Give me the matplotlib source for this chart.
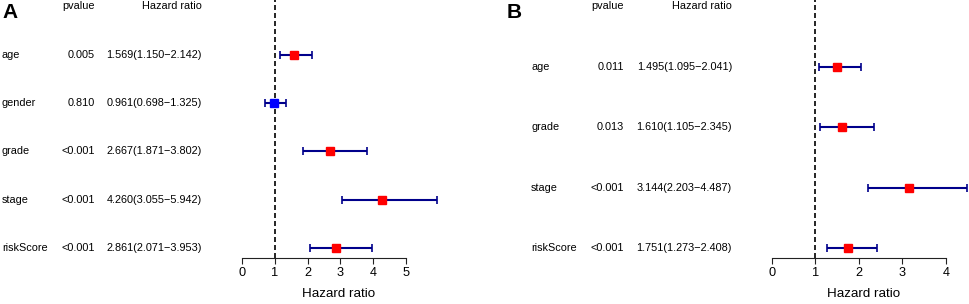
import matplotlib
matplotlib.use("Agg")
import matplotlib.pyplot as plt
import matplotlib.transforms as mtransforms

plt.rcParams["font.family"] = ["Liberation Sans", "DejaVu Sans"]

# ---------- data: panel A (univariate) ----------
a_vars = ["age", "gender", "grade", "stage", "riskScore"]
a_pval = ["0.005", "0.810", "<0.001", "<0.001", "<0.001"]
a_hr = [1.569, 0.961, 2.667, 4.260, 2.861]
a_low = [1.150, 0.698, 1.871, 3.055, 2.071]
a_high = [2.142, 1.325, 3.802, 5.942, 3.953]

# ---------- data: panel B (multivariate) ----------
b_vars = ["age", "grade", "stage", "riskScore"]
b_pval = ["0.011", "0.013", "<0.001", "<0.001"]
b_hr = [1.495, 1.610, 3.144, 1.751]
b_low = [1.095, 1.105, 2.203, 1.273]
b_high = [2.041, 2.345, 4.487, 2.408]

a_ticks = [0, 1, 2, 3, 4, 5]
b_ticks = [0, 1, 2, 3, 4]

W, H = 969, 304
fig = plt.figure(figsize=(W / 100, H / 100), dpi=100)


def px(x):
    return x / W


def forest(letter, ax, vars_, pvals, hr, low, high, ticks, xlim, ylim,
           x_letter, x_name, x_p, x_hr):
    n = len(vars_)
    ypos = list(range(n, 0, -1))
    ax.set_xlim(*xlim)
    ax.set_ylim(*ylim)

    # reference line at HR = 1
    ax.axvline(1, color="black", lw=1.2, linestyle=(0, (3, 1.8)), zorder=1)

    for y, h, lo, hi in zip(ypos, hr, low, high):
        ax.errorbar(h, y, xerr=[[h - lo], [hi - h]], fmt="none",
                    ecolor="#00008B", elinewidth=1.5, capsize=2.6,
                    capthick=1.2, zorder=2)
        col = "red" if h > 1 else "blue"
        ax.plot(h, y, marker="s", ms=5.4, color=col, mec=col, zorder=3)

    for side in ["top", "right", "left"]:
        ax.spines[side].set_visible(False)
    ax.spines["bottom"].set_bounds(ticks[0], ticks[-1])
    ax.spines["bottom"].set_linewidth(0.8)
    ax.spines["bottom"].set_color("#222222")
    ax.set_yticks([])
    ax.set_xticks(ticks)
    ax.tick_params(axis="x", length=4, width=0.8, pad=3, labelsize=9.2,
                   colors="#222222", labelcolor="black")
    ax.set_xlabel("Hazard ratio", fontsize=9.6, labelpad=6)

    # table on the left, x in figure coords, y in data coords
    tr = mtransforms.blended_transform_factory(fig.transFigure, ax.transData)
    fs = 7.8
    head_y = n + 1
    fig.text(px(x_p), head_y, "pvalue", transform=tr, ha="right",
             va="center", fontsize=fs)
    fig.text(px(x_hr), head_y, "Hazard ratio", transform=tr, ha="right",
             va="center", fontsize=fs)
    for y, v, p, h, lo, hi in zip(ypos, vars_, pvals, hr, low, high):
        fig.text(px(x_name), y, v, transform=tr, ha="left", va="center",
                 fontsize=fs)
        fig.text(px(x_p), y, p, transform=tr, ha="right", va="center",
                 fontsize=fs)
        fig.text(px(x_hr), y, f"{h:.3f}({lo:.3f}\u2212{hi:.3f})",
                 transform=tr, ha="right", va="center", fontsize=fs)

    fig.text(px(x_letter), 1 - 12 / H, letter, ha="left", va="center",
             fontsize=15, fontweight="bold")


bottom = (H - 257.7) / H

# panel A
axA = fig.add_axes([px(232.2), bottom, px(445.4 - 232.2), 1 - bottom])
forest("A", axA, a_vars, a_pval, a_hr, a_low, a_high, a_ticks,
       (-0.3, 6.2), (0.8, 6.13), 2, 2, 95, 202)

# panel B
axB = fig.add_axes([px(758.6), bottom, px(967.9 - 758.6), 1 - bottom])
forest("B", axB, b_vars, b_pval, b_hr, b_low, b_high, b_ticks,
       (-0.3, 4.5), (0.84, 5.10), 507, 531, 624, 732)

fig.savefig("out.png", dpi=100)
